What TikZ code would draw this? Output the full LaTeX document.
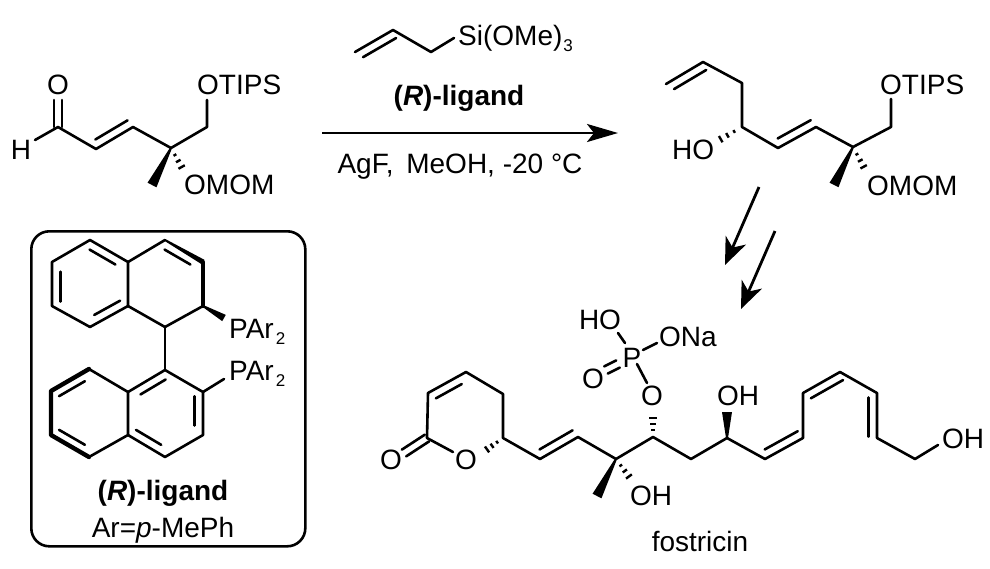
\documentclass[tikz,border=0pt]{standalone}
\usepackage{fontspec}
\setmainfont{Liberation Sans}
\usetikzlibrary{calc,arrows.meta}
\newcommand{\lowered}[1]{\raisebox{-6.5pt}{\fontsize{17}{18}\selectfont #1}}
\newcommand{\innerbond}[4]{\draw [bond] ($(#1)!.1!(#2)!8.5pt!#3:(#2)$) -- ($(#2)!#4!(#1)!-8.5pt!#3:(#1)$);}
\newcommand{\twobond}[2]{\draw [bond] ($(#1)!4pt!90:(#2)$) -- ($(#2)!-4pt!90:(#1)$) ($(#1)!4pt!-90:(#2)$) -- ($(#2)!-4pt!-90:(#1)$);}
\newcommand{\wedgebond}[3]{\fill ($(#1)!1pt!90:(#2)$) -- ($(#2)!#3!-90:(#1)$) -- ($(#2)!#3!90:(#1)$) -- ($(#1)!1pt!-90:(#2)$) -- cycle;}
\newcommand{\hashbond}[2]{\foreach \t/\w in {.28/1.6,.52/2.6,.76/3.6,1/4.6}
  {\draw [hash] ($(#1)!\t!(#2)!\w pt!90:(#2)$) -- ($(#1)!\t!(#2)!\w pt!-90:(#2)$);}}
\begin{document}
\begin{tikzpicture}[x=1pt,y=-1pt]
  \tikzstyle{bond}=[line width=2.6pt,line join=round,line cap=round]
  \tikzstyle{boldbond}=[line width=4.4pt,line join=round,line cap=round]
  \tikzstyle{hash}=[line width=2.4pt]
  \tikzstyle{atom}=[inner sep=0pt,text height=20pt,text depth=0pt,font=\fontsize{28}{30}\selectfont]
  \tikzstyle{longarrow}=[line width=2.8pt,-{Stealth[length=31pt,width=18pt,inset=7pt]}]
  \tikzstyle{steparrow}=[line width=2.8pt,-{Stealth[length=27pt,width=22pt,inset=8pt]}]
  \tikzstyle{panel}=[line width=2.6pt,rounded corners=18pt]

  \useasboundingbox (0,0) rectangle (990,568);

  \node [atom] (ald_o) at (58,84) {O};
  \node [atom] (ald_h) at (21,149) {H};
  \node [atom,anchor=west] (ald_otips) at (197,84) {OTIPS};
  \node [atom,anchor=west] (ald_omom) at (184,184) {OMOM};
  \coordinate (a0) at (58,100);
  \coordinate (a1) at (58,127);
  \coordinate (a2) at (96,149);
  \coordinate (a3) at (133,127);
  \coordinate (a4) at (171,148);
  \coordinate (a5) at (207,127);
  \coordinate (a6) at (207,100);
  \coordinate (a7) at (35,140);
  \coordinate (a8) at (152,185);
  \coordinate (a9) at (185,173);
  \draw [bond] (a7) -- (a1) -- (a2) -- (a3) -- (a4) -- (a5) -- (a6);
  \twobond{a1}{a0}
  \innerbond{a2}{a3}{90}{.03}
  \wedgebond{a4}{a8}{5pt}
  \hashbond{a4}{a9}

  \coordinate (s1) at (355,52);
  \coordinate (s2) at (393,30);
  \coordinate (s3) at (431,52);
  \coordinate (s4) at (454,38);
  \node [atom,anchor=west] (silane) at (458,35) {Si(OMe)\kern1pt\lowered{3}};
  \draw [bond] (s1) -- (s2) -- (s3) -- (s4);
  \innerbond{s1}{s2}{-90}{.03}
  \node [atom] (cat_top) at (459,95) {\textbf{(\textit{R})-ligand}};
  \node [atom] (cond) at (460,163) {AgF,\hspace{5pt} MeOH, -20 °C};
  \coordinate (r1) at (322,133);
  \coordinate (r2) at (618,133);
  \draw [longarrow] (r1) -- (r2);

  \node [atom,anchor=west] (pr_ho) at (672,149) {HO};
  \node [atom,anchor=west] (pr_otips) at (880,84) {OTIPS};
  \node [atom,anchor=west] (pr_omom) at (867,185) {OMOM};
  \coordinate (b1) at (666,84);
  \coordinate (b2) at (703,62);
  \coordinate (b3) at (742,83);
  \coordinate (b4) at (742,127);
  \coordinate (b5) at (778,148);
  \coordinate (b6) at (816,127);
  \coordinate (b7) at (853,147);
  \coordinate (b8) at (891,127);
  \coordinate (b9) at (891,99);
  \coordinate (b10) at (834,185);
  \coordinate (b11) at (867,173);
  \coordinate (b12) at (714,143);
  \draw [bond] (b1) -- (b2) -- (b3) -- (b4) -- (b5) -- (b6) -- (b7) -- (b8) -- (b9);
  \innerbond{b1}{b2}{-90}{.03}
  \innerbond{b5}{b6}{90}{.03}
  \wedgebond{b7}{b10}{5pt}
  \hashbond{b7}{b11}
  \hashbond{b4}{b12}

  \coordinate (d1) at (759,187);
  \coordinate (d2) at (725,265);
  \coordinate (d3) at (775,231);
  \coordinate (d4) at (741,309);
  \draw [steparrow] (d1) -- (d2);
  \draw [steparrow] (d3) -- (d4);

  \node [draw,panel,minimum width=274pt,minimum height=315pt,anchor=north west] (box) at (30,230) {};
  \coordinate (u1) at (90,240);
  \coordinate (u2) at (128,262);
  \coordinate (u3) at (128,306);
  \coordinate (u4) at (90,327);
  \coordinate (u5) at (52,306);
  \coordinate (u6) at (52,262);
  \coordinate (u7) at (165,240);
  \coordinate (u8) at (203,262);
  \coordinate (u9) at (203,306);
  \coordinate (u10) at (165,327);
  \coordinate (u11) at (224,318);
  \draw [bond] (u1) -- (u2) -- (u3) -- (u4) -- (u5) -- (u6) -- cycle;
  \draw [bond] (u2) -- (u7);
  \draw [bond] (u3) -- (u10) -- (u9);
  \draw [boldbond] (u8) -- (u9);
  \wedgebond{u7}{u8}{2.6pt}
  \wedgebond{u9}{u11}{3.6pt}
  \innerbond{u1}{u2}{-90}{.22}
  \innerbond{u3}{u4}{-90}{.22}
  \innerbond{u5}{u6}{-90}{.22}
  \innerbond{u7}{u8}{-90}{.22}

  \coordinate (v1) at (89,369);
  \coordinate (v2) at (128,392);
  \coordinate (v3) at (128,435);
  \coordinate (v4) at (89,457);
  \coordinate (v5) at (51,435);
  \coordinate (v6) at (51,391);
  \coordinate (v7) at (165,370);
  \coordinate (v8) at (203,392);
  \coordinate (v9) at (203,435);
  \coordinate (v10) at (165,457);
  \coordinate (v11) at (224,379);
  \draw [bond] (v1) -- (v2) -- (v3) -- (v4);
  \draw [boldbond] (v4) -- (v5) -- (v6) -- (v1);
  \draw [bond] (v2) -- (v7) -- (v8) -- (v9) -- (v10) -- (v3);
  \draw [bond] (u10) -- (v7);
  \draw [bond] (v8) -- (v11);
  \innerbond{v5}{v4}{90}{.22}
  \innerbond{v6}{v1}{-90}{.22}
  \innerbond{v7}{v2}{90}{.22}
  \innerbond{v8}{v9}{-90}{.22}
  \innerbond{v3}{v10}{90}{.22}

  \node [atom,anchor=west] (par_up) at (229,328) {PAr\kern2pt\lowered{2}};
  \node [atom,anchor=west] (par_lo) at (229,370) {PAr\kern2pt\lowered{2}};
  \node [atom] (cat_box) at (163,490) {\textbf{(\textit{R})-ligand}};
  \node [atom] (cat_ar) at (163,527) {Ar=\textit{p}-MePh};

  \node [atom] (f_oc) at (391,459) {O};
  \node [atom] (f_or) at (466,459) {O};
  \node [atom] (f_op) at (652,395) {O};
  \node [atom] (f_p) at (632,357) {P};
  \node [atom] (f_ho) at (600,319) {HO};
  \node [atom,anchor=west] (f_ona) at (659,336) {ONa};
  \node [atom] (f_odb) at (593,378) {O};
  \node [atom,anchor=west] (f_oh1) at (630,495) {OH};
  \node [atom,anchor=west] (f_oh2) at (717,395) {OH};
  \node [atom,anchor=west] (f_oh3) at (942,438) {OH};
  \node [atom] (name) at (700,541) {fostricin};
  \coordinate (c0) at (404,453);
  \coordinate (c1) at (427,438);
  \coordinate (c2) at (428,393);
  \coordinate (c3) at (466,372);
  \coordinate (c4) at (503,394);
  \coordinate (c5) at (503,438);
  \coordinate (c6) at (453,452);
  \coordinate (c7) at (482,453);
  \coordinate (c8) at (540,459);
  \coordinate (c9) at (578,437);
  \coordinate (c10) at (616,459);
  \coordinate (c11) at (653,437);
  \coordinate (c12) at (691,459);
  \coordinate (c13) at (727,438);
  \coordinate (c14) at (765,459);
  \coordinate (c15) at (803,438);
  \coordinate (c16) at (803,393);
  \coordinate (c17) at (840,372);
  \coordinate (c18) at (877,393);
  \coordinate (c19) at (877,438);
  \coordinate (c20) at (915,459);
  \coordinate (c21) at (938,445);
  \coordinate (c22) at (597,496);
  \coordinate (c23) at (633,482);
  \coordinate (c24) at (653,412);
  \coordinate (c25) at (727,412);
  \coordinate (p1) at (618,333);
  \coordinate (p2) at (625,343);
  \coordinate (p3) at (643,350);
  \coordinate (p4) at (657,343);
  \coordinate (p5) at (637,364);
  \coordinate (p6) at (647,383);
  \coordinate (p7) at (606,370);
  \coordinate (p8) at (618,364);
  \draw [bond] (c6) -- (c1) -- (c2) -- (c3) -- (c4) -- (c5) -- (c8) -- (c9) -- (c10) -- (c11) -- (c12) -- (c13) -- (c14) -- (c15) -- (c16) -- (c17) -- (c18) -- (c19) -- (c20) -- (c21);
  \draw [bond] (p1) -- (p2);
  \draw [bond] (p3) -- (p4);
  \draw [bond] (p5) -- (p6);
  \twobond{p7}{p8}
  \twobond{c0}{c1}
  \innerbond{c2}{c3}{-90}{.22}
  \innerbond{c8}{c9}{90}{.03}
  \innerbond{c14}{c15}{90}{.03}
  \innerbond{c16}{c17}{-90}{.03}
  \innerbond{c18}{c19}{-90}{.03}
  \hashbond{c5}{c7}
  \hashbond{c10}{c23}
  \hashbond{c11}{c24}
  \wedgebond{c10}{c22}{5pt}
  \wedgebond{c13}{c25}{5pt}
\end{tikzpicture}
\end{document}
